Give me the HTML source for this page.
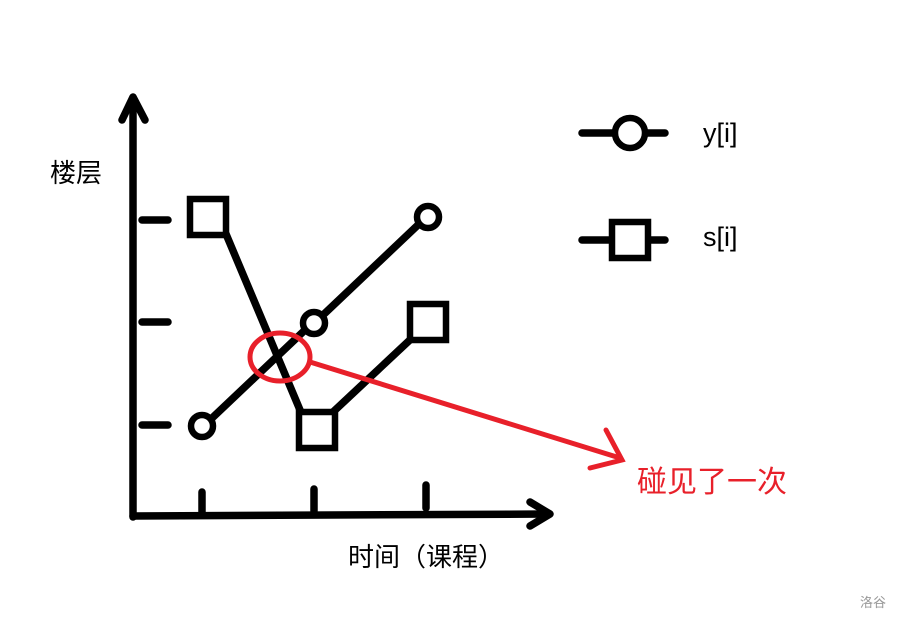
<!DOCTYPE html>
<html><head><meta charset="utf-8"><style>
html,body{margin:0;padding:0;background:#fff;}
svg{display:block;}
text{font-family:"Liberation Sans","Noto Sans CJK SC",sans-serif;}
</style></head><body>
<svg width="900" height="622" viewBox="0 0 900 622" xmlns="http://www.w3.org/2000/svg">
<g stroke="#000" stroke-width="7.5" fill="none" stroke-linecap="round" stroke-linejoin="round">
  <path d="M133,517 L133,98"/>
  <path d="M122,120 L133,97 L145,120"/>
  <path d="M133,516 L548,514"/>
  <path d="M530,502 L550,514 L530,526"/>
  <path d="M142,220 L168,220 M142,322 L168,322 M142,425 L168,425"/>
  <path d="M202,492 L202,512 M314,489 L314,511 M426,485 L426,508"/>
  <path d="M210,420 L305,330 M322,316 L419,224"/>
  <path d="M226,234 L300,410 M333,412 L412,338"/>
  <path d="M582,133 L665,133 M582,240 L665,240"/>
</g>
<g stroke="#000" stroke-width="6.5" fill="#fff">
  <circle cx="202" cy="426" r="11"/>
  <circle cx="314" cy="323" r="11"/>
  <circle cx="428" cy="217" r="11"/>
  <rect x="190" y="199" width="36" height="36"/>
  <rect x="299" y="412" width="36" height="36"/>
  <rect x="410" y="304" width="36" height="36"/>
  <circle cx="630" cy="133" r="15"/>
  <rect x="612" y="222" width="36" height="36"/>
</g>
<g stroke="#e8202a" stroke-width="5" fill="none" stroke-linecap="round">
  <ellipse cx="280" cy="357" rx="30" ry="24"/>
  <path d="M310,362 L620,458"/>
  <path d="M606,430 L622,460 L590,468"/>
</g>
<text x="50" y="182" font-size="26" fill="#000">楼层</text>
<text x="348" y="566" font-size="26" fill="#000">时间（课程）</text>
<text x="703" y="142" font-size="27" fill="#000">y[i]</text>
<text x="703" y="246" font-size="27" fill="#000">s[i]</text>
<text x="637" y="492" font-size="30" fill="#e8202a">碰见了一次</text>
<text x="860" y="607" font-size="13" fill="#999">洛谷</text>
</svg>
</body></html>
